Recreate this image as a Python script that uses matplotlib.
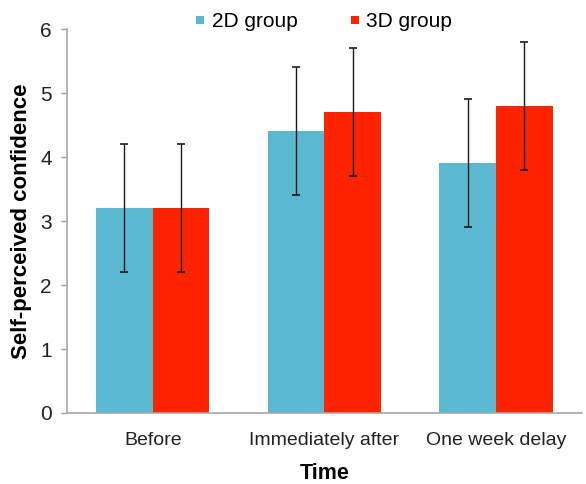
import matplotlib
matplotlib.use("Agg")
import matplotlib.pyplot as plt
from matplotlib.lines import Line2D
import numpy as np

categories = ["Before", "Immediately after", "One week delay"]
group_2d = [3.2, 4.4, 3.9]
group_3d = [3.2, 4.7, 4.8]
err_2d = [1.0, 1.0, 1.0]
err_3d = [1.0, 1.0, 1.0]
series_names = ["2D group", "3D group"]
yticks = [0, 1, 2, 3, 4, 5, 6]

plt.rcParams['font.family'] = ['Liberation Sans', 'DejaVu Sans']

fig = plt.figure(figsize=(5.86, 4.84), dpi=100)
ax = fig.add_axes([0.1143, 0.1467, 0.8787, 0.7933])

x = np.arange(len(categories))
w = 0.33
c2 = "#5BB8D1"
c3 = "#FF2400"
ax.bar(x - w/2, group_2d, w, color=c2, label=series_names[0], zorder=2)
ax.bar(x + w/2, group_3d, w, color=c3, label=series_names[1], zorder=2)
ax.errorbar(x - w/2, group_2d, yerr=err_2d, fmt='none', ecolor='#1a1a1a',
            elinewidth=1.0, capsize=2.6, capthick=1.2, zorder=3)
ax.errorbar(x + w/2, group_3d, yerr=err_3d, fmt='none', ecolor='#1a1a1a',
            elinewidth=1.0, capsize=2.6, capthick=1.2, zorder=3)

ax.set_xlim(-0.5, 2.5)
ax.set_ylim(0, 6)
ax.set_yticks(yticks)
ax.set_xticks(x)
ax.set_xticklabels(categories, fontsize=14, color='#222222')
ax.tick_params(axis='y', labelsize=15, length=4, color='#A0A0A0', width=1,
               pad=7, labelcolor='#222222')
ax.tick_params(axis='x', length=0, pad=14)
for s in ['top', 'right']:
    ax.spines[s].set_visible(False)
for s in ['left', 'bottom']:
    ax.spines[s].set_color('#A8A8A8')
    ax.spines[s].set_linewidth(1.2)

ax.set_ylabel("Self-perceived confidence", fontsize=16, fontweight='bold', labelpad=6)
ax.set_xlabel("Time", fontsize=15.5, fontweight='bold', labelpad=10)

handles = [Line2D([], [], linestyle='none', marker='s', markersize=5.2,
                  markerfacecolor=c, markeredgewidth=0) for c in (c2, c3)]
leg = ax.legend(handles, series_names, loc='lower center', bbox_to_anchor=(0.5, 0.972),
                ncol=2, frameon=False, fontsize=15, handlelength=0.34,
                handletextpad=0.38, columnspacing=2.6, borderaxespad=0)

fig.savefig("out.png", dpi=100)
